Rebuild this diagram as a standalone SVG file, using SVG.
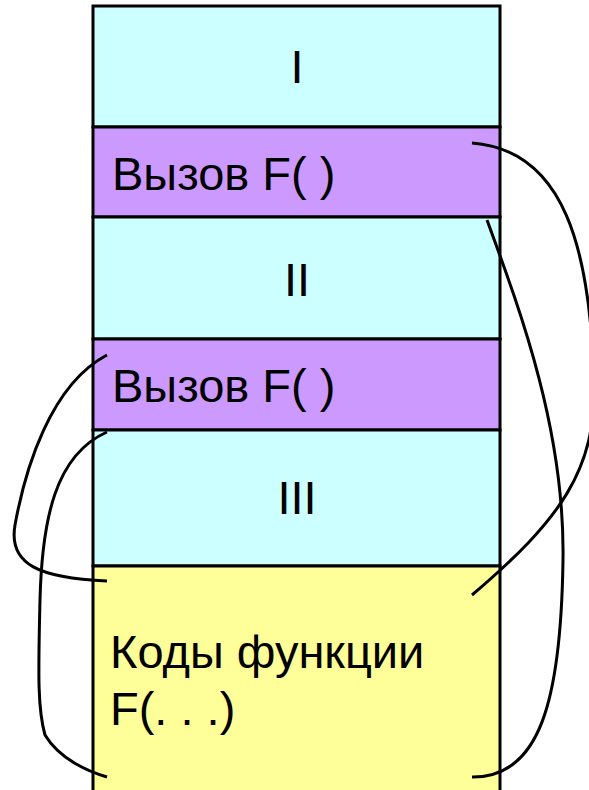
<svg xmlns="http://www.w3.org/2000/svg" width="589" height="790" viewBox="0 0 589 790">
<style>
.box{stroke:#000;stroke-width:3}
.cy{fill:#CCFFFF}
.pu{fill:#CC99FF}
.ye{fill:#FFFF99}
.t{font-family:"Liberation Sans",Arial,sans-serif;font-size:47px;fill:#000}
.c{fill:none;stroke:#000;stroke-width:3;stroke-linecap:butt}
</style>
<g id="sec1"><rect class="box cy" x="93" y="6" width="407" height="121"/><text class="t" x="297" y="83" text-anchor="middle">I</text></g>
<g id="call1"><rect class="box pu" x="93" y="127" width="407" height="90"/><text class="t" x="112" y="190">Вызов F( )</text></g>
<g id="sec2"><rect class="box cy" x="93" y="217" width="407" height="122"/><text class="t" x="297" y="296" text-anchor="middle">II</text></g>
<g id="call2"><rect class="box pu" x="93" y="339" width="407" height="91"/><text class="t" x="112" y="402">Вызов F( )</text></g>
<g id="sec3"><rect class="box cy" x="93" y="430" width="407" height="136"/><text class="t" x="297" y="514" text-anchor="middle">III</text></g>
<g id="func"><rect class="box ye" x="93" y="566" width="407" height="240"/><text class="t" x="110" y="668">Коды функции</text><text class="t" x="110" y="725">F(. . .)</text></g>
<g id="connectors">
<path class="c" d="M472,143 C565,150 590,250 594,380 C597,470 560,520 472,595"/>
<path class="c" d="M487,220 C520,310 565,430 563,560 C561,700 540,778 472,777"/>
<path class="c" d="M107,355 C50,385 25,470 15,525 C8,565 40,578 107,581"/>
<path class="c" d="M107,432 C55,455 42,520 40,600 C38,680 38,710 45,735 C60,760 90,772 107,777"/>
</g>
</svg>
